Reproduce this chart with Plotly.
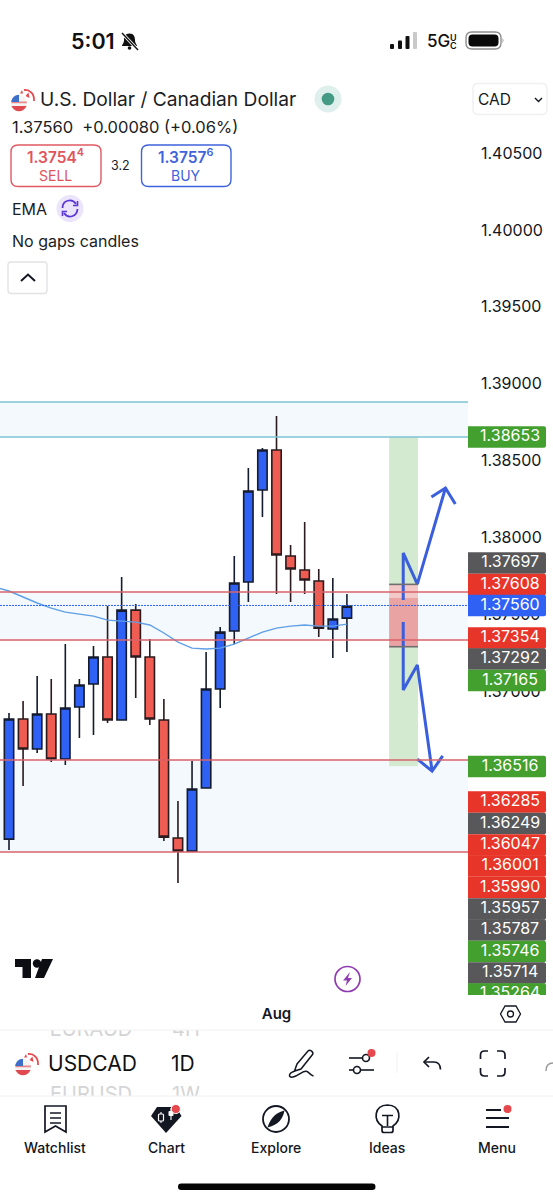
import plotly.graph_objects as go

FONT = "Inter, 'Noto Sans', sans-serif"
INK = "#131722"

# ---------- market data ----------
candle_index = list(range(25))
open_price = [1.36042, 1.36822, 1.36627, 1.36855, 1.36562, 1.36900, 1.37050, 1.37225, 1.36816, 1.37530, 1.37225, 1.36816, 1.36049,
              1.35964, 1.36374, 1.37017, 1.37394, 1.37712, 1.38310, 1.38570, 1.37881, 1.37790, 1.37719, 1.37407, 1.37478]
close_price = [1.36822, 1.36627, 1.36855, 1.36562, 1.36894, 1.37043, 1.37225, 1.36816, 1.37530, 1.37225, 1.36822, 1.36055, 1.35964,
               1.36367, 1.37017, 1.37387, 1.37706, 1.38304, 1.38570, 1.37888, 1.37797, 1.37725, 1.37413, 1.37472, 1.37556]
high_price = [1.36861, 1.36939, 1.37102, 1.37082, 1.37309, 1.37082, 1.37296, 1.37556, 1.37745, 1.37569, 1.37342, 1.36952, 1.36289,
              1.36549, 1.37257, 1.37420, 1.37881, 1.38453, 1.38583, 1.38791, 1.37953, 1.38102, 1.37797, 1.37738, 1.37634]
low_price = [1.35971, 1.36387, 1.36601, 1.36543, 1.36523, 1.36699, 1.36718, 1.36796, 1.36816, 1.36959, 1.36783, 1.36029, 1.35756,
             1.35958, 1.36374, 1.36894, 1.37309, 1.37582, 1.38135, 1.37634, 1.37582, 1.37634, 1.37355, 1.37219, 1.37257]
ema_index = list(range(-1, 25))
ema_price = [1.37680, 1.37654, 1.37615, 1.37576, 1.37543, 1.37517, 1.37504, 1.37491, 1.37465, 1.37459, 1.37452, 1.37433, 1.37381,
             1.37322, 1.37283, 1.37277, 1.37283, 1.37309, 1.37348, 1.37387, 1.37413, 1.37426, 1.37433, 1.37426, 1.37426, 1.37439]

last_price = 1.37560
zone_upper = (1.38655, 1.38882)
zone_middle = (1.37335, 1.37647)
zone_lower = (1.35958, 1.36556)
target_box = (1.36516, 1.38653)
risk_top = (1.37608, 1.37697)
risk_main = (1.37292, 1.37608)

up_path_index = [28, 28, 29, 31]
up_path_price = [1.37595, 1.37901, 1.37699, 1.38323]
up_head_index = [30, 31, 31.7]
up_head_price = [1.38265, 1.38323, 1.38219]
down_path_index = [28, 28, 29, 30.05]
down_path_price = [1.37452, 1.37011, 1.37173, 1.36484]
down_head_index = [29, 30.05, 30.8]
down_head_price = [1.36562, 1.36484, 1.36582]

axis_ticks = [1.405, 1.40, 1.395, 1.39, 1.385, 1.38, 1.375, 1.37, 1.365, 1.36, 1.355]
axis_tick_text = ["1.40500", "1.40000", "1.39500", "1.39000", "1.38500", "1.38000", "1.37500", "1.37000", "1.36500", "1.36000", "1.35500"]
month_ticks = [19]
month_labels = ["Aug"]

tag_text = ["1.38653", "1.37697", "1.37608", "1.37560", "1.37354", "1.37292", "1.37165", "1.36516", "1.36285", "1.36249",
            "1.36047", "1.36001", "1.35990", "1.35957", "1.35787", "1.35746", "1.35714", "1.35264"]
tag_kind = ["g", "k", "r", "b", "r", "k", "g", "g", "r", "k", "r", "r", "r", "k", "k", "g", "k", "g"]
tag_row = [437, 563, 584.5, 605.5, 638, 659, 680.5, 766.5, 802, 823.5, 845, 866, 887.5, 909, 930, 951.5, 973, 994]
tag_palette = {"g": "#43a02f", "k": "#58585a", "r": "#e8352a", "b": "#2f62f4"}

CHART_BOTTOM = 995
AXIS_LEFT = 468
W, H = 553, 1200
y_bottom = 1 - CHART_BOTTOM / H

fig = go.Figure()
fig.add_trace(go.Candlestick(
    x=candle_index, open=open_price, high=high_price, low=low_price, close=close_price,
    increasing=dict(fillcolor="#2f62f4", line=dict(color="#141b2e", width=1.6)),
    decreasing=dict(fillcolor="#ee5c52", line=dict(color="#2b1a1e", width=1.6)),
    hoverinfo="skip", showlegend=False))
fig.add_trace(go.Scatter(x=ema_index, y=ema_price, mode="lines", line=dict(color="#5f9fe6", width=1.4),
                         hoverinfo="skip", showlegend=False))
for xs, ys in [(up_path_index, up_path_price), (up_head_index, up_head_price),
               (down_path_index, down_path_price), (down_head_index, down_head_price)]:
    fig.add_trace(go.Scatter(x=xs, y=ys, mode="lines", line=dict(color="#3b5fdc", width=3),
                             hoverinfo="skip", showlegend=False))

# pixel overlay subplot (UI chrome)
fig.add_trace(go.Scatter(x=[0], y=[0], xaxis="x2", yaxis="y2", mode="markers", marker=dict(opacity=0),
                         hoverinfo="skip", showlegend=False))
# price tags, clipped at the chart bottom like the reference
fig.add_trace(go.Bar(y=tag_row, x=[1] * len(tag_row), width=21.4, orientation="h", xaxis="x3", yaxis="y3",
                     marker=dict(color=[tag_palette[k] for k in tag_kind], line=dict(width=0)),
                     hoverinfo="skip", showlegend=False))
fig.add_trace(go.Scatter(y=tag_row, x=[0.54] * len(tag_row), text=tag_text, mode="text", xaxis="x3", yaxis="y3",
                         textfont=dict(family=FONT, size=16, color="white"), textposition="middle center",
                         hoverinfo="skip", showlegend=False))
# symbols scrolled partly out of the picker wheel
fig.add_trace(go.Scatter(x=[91, 186, 91, 186], y=[1031, 1031, 1096, 1096], text=["EURAUD", "4H", "EURUSD", "1W"],
                         mode="text", xaxis="x4", yaxis="y4", textposition="middle center",
                         textfont=dict(family=FONT, size=20, color="#d4d4d6"), hoverinfo="skip", showlegend=False))

shapes, notes = [], []


def band(lo, hi, fill, x0=0, x1=1, xref="x domain", layer="below"):
    shapes.append(dict(type="rect", xref=xref, yref="y", x0=x0, x1=x1, y0=lo, y1=hi, fillcolor=fill,
                       line=dict(width=0), layer=layer))


def level(p, color, width=1.5, x0=0, x1=1, xref="x domain", dash="solid", layer="above"):
    shapes.append(dict(type="line", xref=xref, yref="y", x0=x0, x1=x1, y0=p, y1=p,
                       line=dict(color=color, width=width, dash=dash), layer=layer))


band(*zone_upper, "#f3f9fc")
band(*zone_middle, "#f3f9fc")
band(*zone_lower, "#f3f9fc")
band(*target_box, "#d3e9d0", 27, 29.05, "x")
band(*risk_top, "#f3c9c8", 27, 29.05, "x")
band(*risk_main, "#e9a3a2", 27, 29.05, "x")
level(risk_top[1], "#6f6f6f", 1.6, 27, 29.05, "x")
level(risk_main[0], "#6f6f6f", 1.6, 27, 29.05, "x")
level(zone_upper[0], "#7cc3d3")
level(zone_upper[1], "#7cc3d3")
for p in (zone_middle + zone_lower):
    level(p, "#d8626b")
level(last_price, "#2f62f4", 1, dash="2px,1px")


def px(d=None, **k):
    base = dict(xref="x2", yref="y2", layer="above")
    base.update(k)
    shapes.append(base)


def path(d, fill="rgba(0,0,0,0)", stroke=None, lw=1.6):
    px(type="path", path=d, fillcolor=fill, line=dict(color=stroke or "rgba(0,0,0,0)", width=lw if stroke else 0))


def circle(cx, cy, r, fill="rgba(0,0,0,0)", stroke=None, lw=1.6):
    px(type="circle", x0=cx - r, x1=cx + r, y0=cy - r, y1=cy + r, fillcolor=fill,
       line=dict(color=stroke or "rgba(0,0,0,0)", width=lw if stroke else 0))


def rrect(x0, y0, x1, y1, r, fill="rgba(0,0,0,0)", stroke=None, lw=1.4):
    d = (f"M{x0+r} {y0} H{x1-r} Q{x1} {y0} {x1} {y0+r} V{y1-r} Q{x1} {y1} {x1-r} {y1} "
         f"H{x0+r} Q{x0} {y1} {x0} {y1-r} V{y0+r} Q{x0} {y0} {x0+r} {y0} Z")
    path(d, fill, stroke, lw)


def text(x, y, s, size=16, color=INK, anchor="left", weight=400):
    notes.append(dict(xref="x2", yref="y2", x=x, y=y, text=s, showarrow=False, xanchor=anchor, yanchor="middle",
                      font=dict(family=FONT, size=size, color=color, weight=weight), borderpad=0, borderwidth=0))


def flag(ox, oy):
    # Canadian disc behind, US disc in front
    path(f"M{ox+13} {oy+1} C{ox+19} {oy+0.5} {ox+23.5} {oy+5} {ox+23} {oy+12}", stroke="#e5484d", lw=1.8)
    path(f"M{ox+14.5} {oy+7} L{ox+17.5} {oy+3.5} L{ox+18.5} {oy+9} Z", fill="#e5484d")
    path(f"M{ox+9} {oy+4.5} L{ox+11} {oy+1} L{ox+12} {oy+4.5} Z", fill="#e5484d")
    circle(ox + 8, oy + 14, 8.2, fill="#f6f3f3")
    path(f"M{ox+0.4} {oy+17} H{ox+15.6} C{ox+14} {oy+20.6} {ox+11} {oy+22.2} {ox+8} {oy+22.2} "
         f"C{ox+5} {oy+22.2} {ox+2} {oy+20.6} {ox+0.4} {oy+17} Z", fill="#e0494f")
    path(f"M{ox+0.6} {oy+14.2} H{ox+15.9} V{oy+12.6} H{ox+0.4} Z", fill="#e9888b")
    path(f"M{ox+0.2} {oy+13} C{ox+0.5} {oy+9} {ox+4} {oy+5.8} {ox+8} {oy+5.8} V{oy+13} Z", fill="#3d6fc9")


# status bar
text(71, 41, "5:01", 21.5, "#111111", weight=600)
path("M129.5 33.5 C125 33.5 124 37 124 40 C124 43.5 122 44.5 122 46 L137 46 C137 44.5 135 43.5 135 40 C135 37 134 33.5 129.5 33.5 Z", fill="#111111")
circle(129.5, 48, 1.8, fill="#111111")
path("M122 33 L138 50", stroke="#ffffff", lw=3.2)
path("M122 33 L138 50", stroke="#111111", lw=1.4)
for x, top, c in [(390, 44, "#111"), (398, 40.5, "#111"), (405.5, 36, "#111"), (413, 32, "#c9c9cb")]:
    rrect(x, top, x + 4, 49, 1, fill=c)
text(427, 41, "5G", 17, "#111111", weight=500)
text(453, 37, "U", 9, "#111111", "center", 600)
text(453, 45, "C", 9, "#111111", "center", 600)
rrect(466, 32, 501, 49, 6, stroke="#8f8f92", lw=1.4)
rrect(468.5, 34.5, 498.5, 46.5, 4, fill="#0a0a0a")
path("M502.5 38 Q504.5 40.5 502.5 43 Z", fill="#9a9a9c")

# header
flag(11, 89)
text(40, 99, "U.S. Dollar / Canadian Dollar", 19.2, "#1a1d24")
circle(328, 99, 13.5, fill="#dff0ec")
circle(328, 99, 6.3, fill="#459a86")
rrect(473, 83.5, 547, 114.5, 5, stroke="#f0f0f2", lw=1.4)
text(478, 99, "CAD", 15.5)
path("M535 98 L538.5 101.5 L542 98", stroke=INK, lw=1.4)
text(12, 127, "1.37560&nbsp;&nbsp;+0.00080 (+0.06%)", 16.5, "#1a1d24")
rrect(11, 145, 101, 186.5, 7, stroke="#df5a63", lw=1.4)
rrect(141.5, 145, 231, 186.5, 7, stroke="#3f63dc", lw=1.4)
text(55.5, 156, "1.3754<sup>4</sup>", 15.5, "#e0545c", "center", 600)
text(55, 175, "SELL", 14, "#e0545c", "center")
text(120.5, 165, "3.2", 12.5, "#1a1d24", "center")
text(185.5, 156, "1.3757<sup>6</sup>", 15.5, "#3f63dc", "center", 600)
text(186, 175, "BUY", 14, "#3f63dc", "center")
text(12, 208.5, "EMA", 16, "#1a1d24")
circle(70, 208.5, 13.5, fill="#ebe4fb")
path("M62.5 208 C62.5 200 72 198 76 204", stroke="#5b36d6", lw=1.8)
path("M77.5 209 C77 217 68 219 64 213", stroke="#5b36d6", lw=1.8)
path("M77.5 201 V205.5 H73", stroke="#5b36d6", lw=1.6)
path("M62.5 216 V211.5 H67", stroke="#5b36d6", lw=1.6)
text(12, 241, "No gaps candles", 16, "#1a1d24")
rrect(8, 262, 47, 293.5, 3, fill="#ffffff", stroke="#e3e3e6", lw=1.4)
path("M21 281 L28 274.5 L35 281", stroke=INK, lw=2)

# chart watermark and toolbar
path("M15 959 H31 V978 H22.5 V967 H15 Z", fill="#0c0e14")
circle(37, 963.5, 4.2, fill="#0c0e14")
path("M42 959 H53 L44 978 H35 Z", fill="#0c0e14")
circle(347.5, 979, 12.5, stroke="#8e3cb0", lw=1.7)
path("M350 972 L343 980.5 H347 L345.5 986 L352 978 H348 Z", fill="#8e3cb0")
path("M505 1006 H516 L520.5 1014 L516 1022 H505 L500.5 1014 Z", stroke=INK, lw=1.3)
circle(510.5, 1014, 3, stroke=INK, lw=1.3)
px(type="line", x0=0, x1=553, y0=1030, y1=1030, line=dict(color="#f0f0f2", width=1))
px(type="line", x0=0, x1=553, y0=1096, y1=1096, line=dict(color="#f0f0f2", width=1))

flag(15, 1053)
text(48, 1063.5, "USDCAD", 21, "#111111")
text(171, 1063.5, "1D", 21, "#111111")
path("M297 1064 L308 1051 C310 1049 314 1052 312.5 1054.5 L301 1069 L294.5 1071 Z", stroke=INK, lw=1.5)
path("M295 1071 C288 1073 288 1078 293 1077 C299 1076 303 1070 307 1071.5 C310 1073 310 1075 313.5 1076", stroke=INK, lw=1.5)
path("M349 1058 H362", stroke=INK, lw=1.6)
circle(366, 1058, 3.5, stroke=INK, lw=1.6)
circle(371.5, 1053, 4, fill="#e5484d")
path("M349 1070 H353", stroke=INK, lw=1.6)
circle(357, 1070, 3.5, stroke=INK, lw=1.6)
path("M360.5 1070 H374", stroke=INK, lw=1.6)
path("M397 1053 V1073", stroke="#f1f1f3", lw=1)
path("M429 1057 L424 1062 L429 1067", stroke=INK, lw=1.7)
path("M424 1062 H434 C438 1062 440.5 1065 440.5 1069.5", stroke=INK, lw=1.7)
for d in ["M480.5 1059 V1055 Q480.5 1051 484.5 1051 H488", "M497 1051 H501 Q505 1051 505 1055 V1059",
          "M505 1068 V1072 Q505 1076 501 1076 H497", "M488 1076 H484.5 Q480.5 1076 480.5 1072 V1068"]:
    path(d, stroke=INK, lw=1.7)
path("M553 1063 Q546 1063 546 1071", stroke="#9b9b9e", lw=1.5)

# navigation bar
path("M45 1106 H66 V1132 L55.5 1126 L45 1132 Z", stroke=INK, lw=1.7)
for y in (1113, 1118, 1123):
    path(f"M50 {y} H61", stroke=INK, lw=1.5)
path("M157 1107 H176 L181.5 1116 L166 1133 L151 1116 Z", fill=INK)
path("M161 1112 V1123 M171 1108 V1120", stroke="#ffffff", lw=1.1)
rrect(158.5, 1114, 163.5, 1121, 1, fill=INK, stroke="#ffffff", lw=1.2)
rrect(168.5, 1111, 173.5, 1116, 1, fill="#ffffff")
circle(175.8, 1109, 4.6, fill="#e5484d", stroke="#ffffff", lw=1)
circle(276, 1119, 13, stroke=INK, lw=1.8)
path("M284.5 1110.5 C278 1112 271 1116 267.5 1127.5 C279 1125 283 1118 284.5 1110.5 Z", fill=INK)
path("M382 1130.5 V1126 C373 1120 374 1105.5 387.5 1105 C401 1105.5 402 1120 393 1126 V1130.5 Q393 1132.5 391 1132.5 H384 Q382 1132.5 382 1130.5 Z", stroke=INK, lw=1.7)
path("M382 1115.5 H393 M387.5 1115.5 V1126 M382 1127 H393", stroke=INK, lw=1.6)
path("M486 1110 H501", stroke=INK, lw=2)
path("M486 1118 H509", stroke=INK, lw=2)
path("M486 1127 H509", stroke=INK, lw=2)
circle(507.5, 1109, 4, fill="#e5484d")
for x, s in [(55, "Watchlist"), (166, "Chart"), (276, "Explore"), (387, "Ideas"), (497, "Menu")]:
    text(x, 1147, s, 14, "#131722", "center", 500)
rrect(178, 1183.5, 375.5, 1190, 3.2, fill="#050505")

hidden = dict(visible=False, fixedrange=True)
fig.update_layout(
    width=W, height=H, margin=dict(l=0, r=0, t=0, b=0), autosize=False,
    paper_bgcolor="white", plot_bgcolor="rgba(0,0,0,0)", showlegend=False, hovermode=False,
    font=dict(family=FONT, color=INK), boxgap=0.05,
    shapes=shapes, annotations=notes,
    xaxis=dict(domain=[0, AXIS_LEFT / W], range=[-0.639, 32.6], rangeslider=dict(visible=False), showgrid=False,
               zeroline=False, showline=False, ticks="", tickmode="array", tickvals=month_ticks, ticktext=month_labels,
               tickfont=dict(family=FONT, size=15, color=INK, weight=600), ticklabelstandoff=8, fixedrange=True, anchor="y"),
    yaxis=dict(domain=[y_bottom, 1], range=[1.35029, 1.41494], side="right", showgrid=False, zeroline=False,
               showline=False, ticks="", tickmode="array", tickvals=axis_ticks, ticktext=axis_tick_text,
               tickfont=dict(family=FONT, size=16, color=INK), ticklabelstandoff=12, fixedrange=True, anchor="x"),
    xaxis2=dict(domain=[0, 1], range=[0, W], anchor="y2", **hidden),
    yaxis2=dict(domain=[0, 1], range=[H, 0], anchor="x2", **hidden),
    xaxis3=dict(domain=[AXIS_LEFT / W, 546 / W], range=[0, 1], anchor="y3", **hidden),
    yaxis3=dict(domain=[y_bottom, 1], range=[CHART_BOTTOM, 0], anchor="x3", **hidden),
    xaxis4=dict(domain=[0, 1], range=[0, W], anchor="y4", **hidden),
    yaxis4=dict(domain=[1 - 1096 / H, 1 - 1030 / H], range=[1096, 1030], anchor="x4", **hidden),
    barcornerradius=2,
)

fig.write_html("out.html", config=dict(displayModeBar=False, staticPlot=True),
               post_script="document.body.style.margin='0';document.documentElement.style.overflow='hidden';")
